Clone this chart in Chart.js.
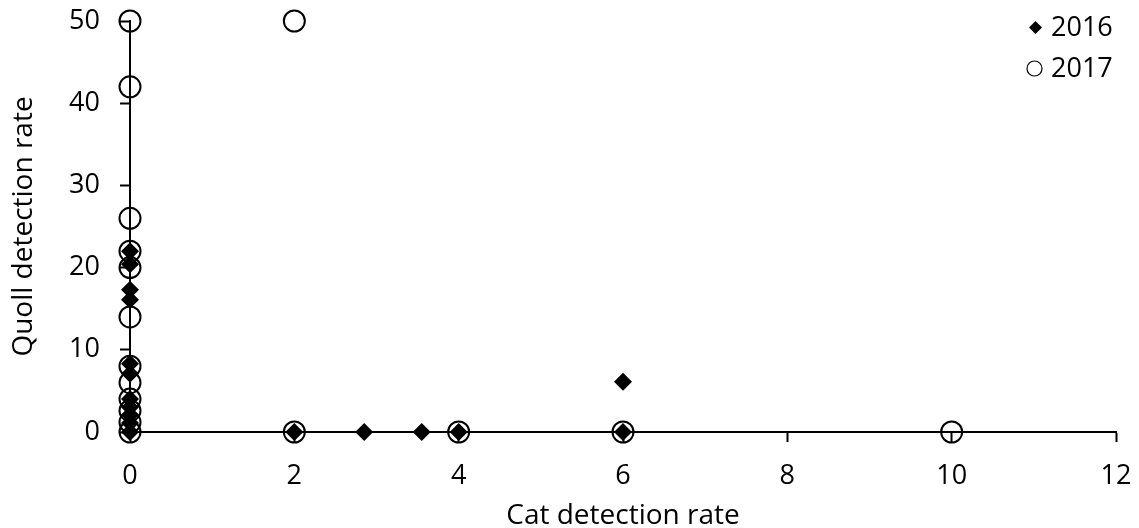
<!DOCTYPE html>
<html>
<head>
<meta charset="utf-8">
<script src="https://cdn.jsdelivr.net/npm/chart.js@4/dist/chart.umd.min.js"></script>
<style>
  html, body { margin: 0; padding: 0; background: #ffffff; }
  #wrap { width: 1139px; height: 528px; position: relative; }
</style>
</head>
<body>
<div id="wrap"><canvas id="chart"></canvas></div>
<script>
// Detection rates per site: cat (x) vs quoll (y)
const seriesLabels = ['2016', '2017'];

const cat2016   = [0, 0, 0, 0, 0, 0, 0, 0, 0, 0, 0, 2, 2.85, 3.55, 4, 6, 6];
const quoll2016 = [22, 20.4, 17.3, 16.1, 8.3, 7.1, 4, 3, 2.1, 1.1, 0, 0, 0, 0, 0, 6.1, 0];

const cat2017   = [0, 0, 0, 0, 0, 0, 0, 0, 0, 0, 0, 0, 2, 2, 4, 6, 10];
const quoll2017 = [50, 42, 26, 22, 20, 14, 8, 6, 4, 2.6, 1.2, 0, 50, 0, 0, 0, 0];

const xTicks = [0, 2, 4, 6, 8, 10, 12];
const yTicks = [0, 10, 20, 30, 40, 50];

const FONT = "'Open Sans', sans-serif";
const toPoints = (xs, ys) => xs.map((x, i) => ({ x: x, y: ys[i] }));

// Legend drawn inside the plot area, top-right
const cornerLegend = {
  id: 'cornerLegend',
  afterDraw(chart) {
    const ctx = chart.ctx;
    const rows = [
      { ds: chart.data.datasets[0], mx: 1035.5, y: 27.5, r: 6.5, bw: 0 },
      { ds: chart.data.datasets[1], mx: 1034.5, y: 68.5, r: 7.5, bw: 1.2 }
    ];
    ctx.save();
    rows.forEach(row => {
      ctx.fillStyle = row.ds.pointBackgroundColor;
      ctx.strokeStyle = row.ds.pointBorderColor;
      ctx.lineWidth = row.bw;
      Chart.helpers.drawPoint(ctx, {
        pointStyle: row.ds.pointStyle, radius: row.r, rotation: 0, borderWidth: row.bw
      }, row.mx, row.y);
      ctx.fillStyle = '#000000';
      ctx.font = "27px " + FONT;
      ctx.textBaseline = 'middle';
      ctx.textAlign = 'left';
      ctx.fillText(row.ds.label, 1051, row.y + 1);
    });
    ctx.restore();
  }
};

new Chart(document.getElementById('chart'), {
  type: 'scatter',
  data: {
    datasets: [
      {
        label: seriesLabels[0],
        data: toPoints(cat2016, quoll2016),
        pointStyle: 'rectRot',
        pointRadius: 9,
        pointBackgroundColor: '#000000',
        pointBorderColor: '#000000',
        pointBorderWidth: 0,
        clip: false,
        order: 2
      },
      {
        label: seriesLabels[1],
        data: toPoints(cat2017, quoll2017),
        pointStyle: 'circle',
        pointRadius: 10.5,
        pointBackgroundColor: 'rgba(0,0,0,0)',
        pointBorderColor: '#000000',
        pointBorderWidth: 2,
        clip: false,
        order: 1
      }
    ]
  },
  options: {
    responsive: true,
    maintainAspectRatio: false,
    animation: false,
    layout: { padding: { left: 0, right: 23, top: 21, bottom: 0 } },
    plugins: { legend: { display: false }, tooltip: { enabled: false } },
    scales: {
      x: {
        type: 'linear',
        min: 0, max: 12,
        afterBuildTicks: s => { s.ticks = xTicks.map(v => ({ value: v })); },
        afterFit: s => { s.height = 96; s.paddingLeft = 0; s.paddingRight = 0; },
        border: { display: true, color: '#000000', width: 2 },
        grid: { display: true, drawOnChartArea: false, drawTicks: true, tickLength: 10, tickColor: '#000000', tickWidth: 2 },
        ticks: { color: '#000000', font: { family: FONT, size: 27 }, padding: 18, maxRotation: 0 },
        title: { display: true, text: 'Cat detection rate', color: '#000000', font: { family: FONT, size: 28, lineHeight: 1 }, padding: { top: 0, bottom: -2 } }
      },
      y: {
        type: 'linear',
        min: 0, max: 50,
        afterBuildTicks: s => { s.ticks = yTicks.map(v => ({ value: v })); },
        afterFit: s => { s.width = 130; s.paddingTop = 0; s.paddingBottom = 0; },
        border: { display: true, color: '#000000', width: 2 },
        grid: { display: true, drawOnChartArea: false, drawTicks: true, tickLength: 10, tickColor: '#000000', tickWidth: 2 },
        ticks: { color: '#000000', font: { family: FONT, size: 27 }, padding: 20 },
        title: { display: true, text: 'Quoll detection rate', color: '#000000', font: { family: FONT, size: 28, lineHeight: 1 }, padding: { top: 10, bottom: 0 } }
      }
    }
  },
  plugins: [cornerLegend]
});
</script>
</body>
</html>
